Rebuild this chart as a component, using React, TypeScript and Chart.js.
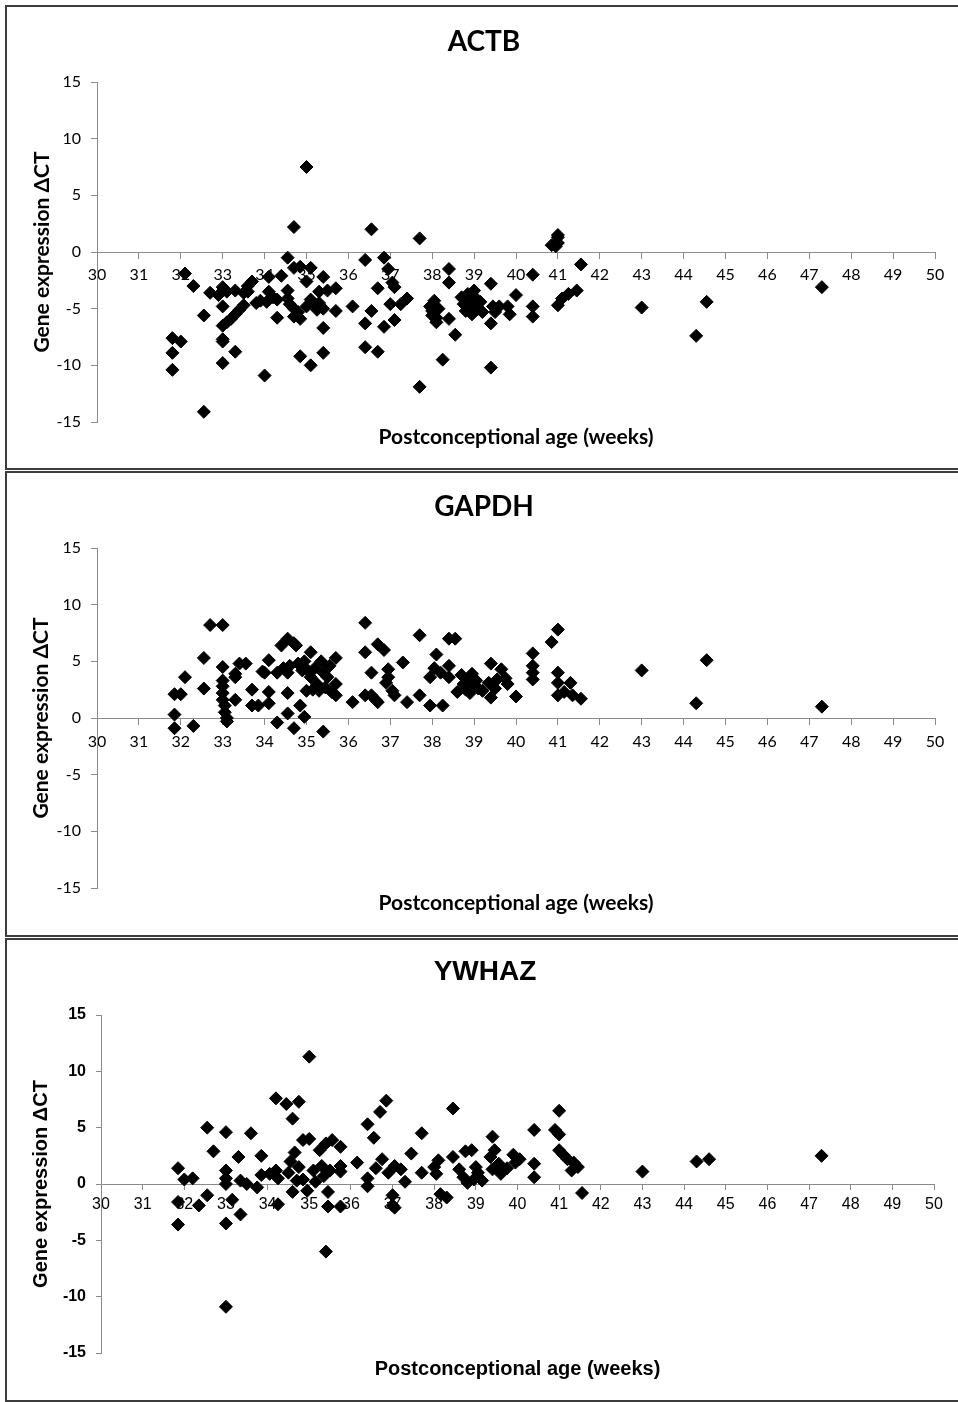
import React, { useEffect, useRef } from "react";
import { Chart, registerables } from "chart.js";

Chart.register(...registerables);

// ---------- DATA ----------
const GENES = ["ACTB", "GAPDH", "YWHAZ"];
const X_TITLE = "Postconceptional age (weeks)";
const Y_TITLE = "Gene expression ΔCT";
const X_RANGE = [30, 50];
const Y_RANGE = [-15, 15];
const X_STEP = 1;
const Y_STEP = 5;

const ACTB_AGE = [
  31.8, 32.0, 31.8, 31.8, 32.1, 32.3, 32.55, 32.55, 32.7, 32.9, 33.0, 33.0, 33.0, 33.0, 33.0, 33.0,
  33.1, 33.2, 33.3, 33.4, 33.5, 33.1, 33.3, 33.3, 33.5, 33.6, 33.7, 33.6, 33.8, 33.9, 34.0, 34.1,
  34.1, 34.05, 34.2, 34.3, 34.3, 34.4, 34.55, 34.7, 34.55, 34.55, 34.6, 34.7, 34.7, 34.7, 34.8, 34.85,
  34.85, 34.85, 35.0, 35.0, 35.0, 35.1, 35.1, 35.1, 35.2, 35.25, 35.3, 35.4, 35.4, 35.4, 35.3, 35.4,
  35.5, 35.7, 35.7, 36.1, 36.4, 36.4, 36.4, 36.55, 36.55, 36.7, 36.7, 36.85, 36.85, 36.95, 37.0, 37.05,
  37.1, 37.1, 37.25, 37.4, 37.7, 37.7, 37.95, 38.0, 38.05, 38.1, 38.1, 38.15, 38.0, 38.25, 38.4, 38.4,
  38.4, 38.55, 38.7, 38.75, 38.8, 38.85, 38.9, 38.95, 39.0, 39.0, 39.05, 39.1, 39.15, 39.2, 39.4, 39.4,
  39.4, 39.45, 39.5, 39.6, 39.8, 39.85, 40.0, 40.4, 40.4, 40.4, 40.85, 41.0, 41.0, 41.0, 40.95, 41.0,
  41.1, 41.25, 41.45, 41.55, 43.0, 44.3, 44.55, 47.3,
];
const ACTB_DCT = [
  -7.6, -7.9, -8.9, -10.4, -1.9, -3.0, -5.6, -14.1, -3.6, -3.8, -3.1, -4.8, -6.5, -7.7, -7.9, -9.8,
  -6.2, -5.9, -5.5, -5.1, -4.7, -3.5, -3.4, -8.8, -3.6, -3.5, -2.6, -3.0, -4.5, -4.3, -10.9, -2.2,
  -3.5, -4.4, -4.0, -5.8, -4.2, -2.1, -0.5, 2.2, -3.4, -4.1, -4.6, -1.4, -5.0, -5.7, -5.3, -1.3,
  -5.9, -9.2, 7.5, -2.6, -4.8, -1.4, -10.0, -4.2, -4.6, -5.1, -4.5, -2.2, -6.7, -8.9, -3.5, -5.0,
  -3.4, -3.2, -5.2, -4.8, -0.7, -6.3, -8.4, 2.0, -5.2, -3.2, -8.8, -0.5, -6.6, -1.5, -4.6, -2.7,
  -3.1, -6.0, -4.6, -4.1, 1.2, -11.9, -4.8, -5.2, -4.3, -5.8, -6.2, -5.0, -5.6, -9.5, -1.5, -2.7,
  -5.9, -7.3, -4.0, -4.6, -5.2, -3.7, -4.3, -5.5, -3.4, -4.8, -4.1, -5.0, -4.4, -5.3, -2.8, -6.3,
  -10.2, -4.8, -5.3, -4.8, -4.8, -5.5, -3.8, -2.0, -4.8, -5.7, 0.6, 1.3, 1.5, 0.8, 0.5, -4.7,
  -4.1, -3.7, -3.4, -1.1, -4.9, -7.4, -4.4, -3.1,
];

const GAPDH_AGE = [
  31.85, 32.0, 31.85, 31.85, 32.1, 32.3, 32.55, 32.55, 32.7, 33.0, 33.0, 33.0, 33.0, 33.0, 33.0, 33.05,
  33.05, 33.1, 33.1, 33.3, 33.3, 33.3, 33.4, 33.55, 33.7, 33.7, 33.85, 33.95, 34.0, 34.1, 34.1, 34.1,
  34.3, 34.3, 34.4, 34.45, 34.55, 34.55, 34.55, 34.55, 34.6, 34.7, 34.7, 34.75, 34.8, 34.85, 34.9, 34.95,
  34.95, 35.0, 35.0, 35.1, 35.1, 35.15, 35.2, 35.25, 35.3, 35.35, 35.4, 35.4, 35.45, 35.5, 35.55, 35.6,
  35.7, 35.7, 35.7, 36.1, 36.4, 36.4, 36.4, 36.55, 36.55, 36.65, 36.7, 36.7, 36.85, 36.95, 36.95, 36.9,
  37.05, 37.1, 37.3, 37.4, 37.7, 37.7, 37.95, 37.95, 38.05, 38.1, 38.2, 38.25, 38.4, 38.4, 38.4, 38.55,
  38.6, 38.7, 38.75, 38.8, 38.85, 38.9, 38.95, 39.0, 39.05, 39.1, 39.2, 39.35, 39.4, 39.4, 39.5, 39.55,
  39.65, 39.75, 39.8, 40.0, 40.4, 40.4, 40.4, 40.4, 40.85, 41.0, 41.0, 41.0, 41.0, 41.15, 41.3, 41.35,
  41.55, 43.0, 44.3, 44.55, 47.3,
];
const GAPDH_DCT = [
  2.1, 2.1, 0.3, -0.9, 3.6, -0.7, 5.3, 2.6, 8.2, 8.2, 4.5, 3.3, 2.8, 2.2, 1.6, 1.1,
  0.5, 0.0, -0.3, 3.6, 3.9, 1.6, 4.8, 4.8, 2.5, 1.1, 1.1, 4.1, 4.0, 5.1, 2.3, 1.3,
  -0.4, 4.0, 6.4, 4.4, 7.0, 4.0, 2.2, 0.4, 4.6, -0.9, 6.6, 6.4, 4.8, 1.1, 4.2, 5.0,
  0.1, 4.3, 2.4, 5.8, 3.6, 2.5, 4.4, 3.0, 2.4, 5.0, -1.2, 4.0, 2.7, 3.6, 4.6, 2.3,
  5.3, 3.0, 2.0, 1.4, 8.4, 5.8, 2.0, 4.0, 2.0, 1.6, 1.4, 6.5, 6.0, 4.3, 3.6, 3.1,
  2.4, 2.0, 4.9, 1.4, 7.3, 2.0, 1.1, 3.6, 4.4, 5.6, 4.0, 1.1, 7.0, 4.6, 3.6, 7.0,
  2.3, 3.8, 3.0, 2.5, 3.4, 2.2, 3.9, 2.9, 3.3, 2.6, 2.4, 3.1, 4.8, 1.8, 2.6, 3.4,
  4.3, 3.5, 3.0, 1.9, 5.7, 4.6, 4.0, 3.4, 6.7, 7.8, 4.0, 3.1, 2.0, 2.3, 3.1, 2.0,
  1.7, 4.2, 1.3, 5.1, 1.0,
];

const YWHAZ_AGE = [
  31.85, 32.0, 32.2, 31.85, 31.85, 32.35, 32.55, 32.55, 32.7, 33.0, 33.0, 33.0, 33.0, 33.15, 33.35, 33.0,
  33.0, 33.3, 33.35, 33.5, 33.6, 33.75, 33.85, 33.85, 34.05, 34.2, 34.25, 34.25, 34.2, 34.45, 34.75, 34.6,
  34.5, 34.55, 34.6, 34.65, 34.7, 34.75, 34.85, 34.85, 34.95, 35.0, 35.0, 35.1, 35.15, 35.25, 35.3, 35.35,
  35.4, 35.45, 35.45, 35.4, 35.5, 35.55, 35.75, 35.75, 35.75, 35.75, 36.15, 36.4, 36.4, 36.4, 36.55, 36.6,
  36.7, 36.75, 36.85, 36.9, 37.0, 37.0, 37.05, 37.05, 37.2, 37.3, 37.45, 37.7, 37.7, 38.0, 38.05, 38.1,
  38.15, 38.3, 38.45, 38.45, 38.6, 38.7, 38.75, 38.8, 38.9, 38.95, 39.0, 39.05, 39.15, 39.35, 39.4, 39.4,
  39.45, 39.55, 39.6, 39.75, 39.9, 39.95, 40.05, 40.4, 40.4, 40.4, 40.9, 41.0, 41.0, 41.0, 41.1, 41.2,
  41.35, 41.3, 41.45, 41.55, 43.0, 44.3, 44.6, 47.3,
];
const YWHAZ_DCT = [
  1.4, 0.4, 0.5, -1.6, -3.6, -1.9, -1.0, 5.0, 2.9, 4.6, 1.2, 0.5, 0.0, -1.4, -2.7, -3.5,
  -10.9, 2.4, 0.3, 0.0, 4.5, -0.3, 2.5, 0.8, 0.9, 1.2, 0.5, -1.8, 7.6, 7.1, 7.3, 5.8,
  1.0, 2.0, -0.7, 2.8, 0.3, 1.5, 3.9, 0.4, -0.6, 4.0, 11.3, 1.2, 0.2, 3.0, 1.6, 0.7,
  3.6, -0.7, -2.0, -6.0, 1.2, 3.9, 3.3, 1.6, 1.1, -2.0, 1.9, 5.3, 0.5, -0.2, 4.1, 1.4,
  6.4, 2.2, 7.4, 1.0, -1.0, -1.9, -2.1, 1.6, 1.3, 0.2, 2.7, 4.5, 1.0, 1.5, 0.9, 2.1,
  -0.9, -1.2, 6.7, 2.4, 1.3, 0.6, 2.9, 0.1, 3.0, 0.4, 1.5, 1.0, 0.3, 2.4, 4.2, 1.3,
  3.0, 1.8, 0.9, 1.4, 2.6, 1.9, 2.2, 4.8, 1.8, 0.6, 4.8, 4.4, 6.5, 3.0, 2.6, 2.2,
  1.9, 1.2, 1.5, -0.8, 1.1, 2.0, 2.2, 2.5,
];

const SERIES_AGE = [ACTB_AGE, GAPDH_AGE, YWHAZ_AGE];
const SERIES_DCT = [ACTB_DCT, GAPDH_DCT, YWHAZ_DCT];

// ---------- STYLE / LAYOUT ----------
const W = 958;
type PanelStyle = {
  top: number;
  height: number;
  chartLeft: number;
  chartRight: number;
  chartTop: number;
  chartBottom: number;
  titleCX: number;
  titleCY: number;
  xLabelCY: number;
  yLabelCX: number;
  family: string;
  titleSize: number;
  labelSize: number;
  tickSize: number;
  yTickBold: boolean;
  tickLen: number;
  xTickPad: number;
  yTickPad: number;
};

const PANEL_STYLES: PanelStyle[] = [
  {
    top: 5, height: 465, chartLeft: 97, chartRight: 935, chartTop: 77, chartBottom: 417,
    titleCX: 484, titleCY: 37, xLabelCY: 432, yLabelCX: 42,
    family: "Lato, 'Open Sans', sans-serif", titleSize: 28, labelSize: 21, tickSize: 16,
    yTickBold: false, tickLen: 6, xTickPad: 7, yTickPad: 10,
  },
  {
    top: 471, height: 466, chartLeft: 97, chartRight: 935, chartTop: 77, chartBottom: 417,
    titleCX: 484, titleCY: 36, xLabelCY: 432, yLabelCX: 41,
    family: "Lato, 'Open Sans', sans-serif", titleSize: 28, labelSize: 21, tickSize: 16,
    yTickBold: false, tickLen: 6, xTickPad: 8, yTickPad: 10,
  },
  {
    top: 938, height: 464, chartLeft: 101, chartRight: 934, chartTop: 77, chartBottom: 415,
    titleCX: 485, titleCY: 34, xLabelCY: 431, yLabelCX: 41,
    family: "'Liberation Sans', Arial, sans-serif", titleSize: 28, labelSize: 20, tickSize: 16,
    yTickBold: true, tickLen: 5, xTickPad: 6, yTickPad: 10,
  },
];

function buildConfig(idx: number): any {
  const s = PANEL_STYLES[idx];
  const ages = SERIES_AGE[idx];
  const vals = SERIES_DCT[idx];
  const pl = 2 * s.titleCX - s.chartRight;
  const pr = W - s.chartRight;
  const yAxisWidth = s.chartLeft - pl;
  const tLH = s.titleSize * 1.2;
  const tPadTop = s.titleCY - tLH / 2;
  const tPadBottom = s.chartTop - s.titleCY - tLH / 2;
  const sLH = s.labelSize * 1.2;
  const sPadTop = s.xLabelCY - s.chartBottom - sLH / 2;
  const sPadBottom = Math.max(0, s.height - s.chartBottom - sPadTop - sLH);
  const yTitlePad = s.yLabelCX - pl - s.labelSize / 2;
  const axisColor = "#8a8a8a";

  return {
    type: "scatter",
    data: {
      datasets: [
        {
          label: GENES[idx],
          data: ages.map((a, i) => ({ x: a, y: vals[i] })),
          pointStyle: "rectRot",
          pointRadius: 6.5,
          pointBorderWidth: 1,
          backgroundColor: "#000",
          borderColor: "#000",
          showLine: false,
        },
      ],
    },
    options: {
      animation: false,
      responsive: false,
      maintainAspectRatio: false,
      devicePixelRatio: 1,
      layout: { padding: { left: pl, right: pr, top: 0, bottom: 0 } },
      plugins: {
        legend: { display: false },
        tooltip: { enabled: false },
        title: {
          display: true,
          text: GENES[idx],
          color: "#000",
          font: { family: s.family, size: s.titleSize, weight: "bold", lineHeight: 1.2 },
          padding: { top: tPadTop, bottom: tPadBottom },
        },
        subtitle: {
          display: true,
          position: "bottom",
          fullSize: false,
          text: X_TITLE,
          color: "#000",
          font: { family: s.family, size: s.labelSize, weight: "bold", lineHeight: 1.2 },
          padding: { top: sPadTop, bottom: sPadBottom },
        },
      },
      scales: {
        x: {
          type: "linear",
          position: { y: 0 },
          min: X_RANGE[0],
          max: X_RANGE[1],
          ticks: {
            stepSize: X_STEP,
            color: "#000",
            font: { family: s.family, size: s.tickSize },
            padding: s.xTickPad,
            maxRotation: 0,
            autoSkip: false,
          },
          grid: { drawOnChartArea: false, drawTicks: true, tickLength: s.tickLen, color: axisColor },
          border: { color: axisColor, width: 1 },
        },
        y: {
          type: "linear",
          min: Y_RANGE[0],
          max: Y_RANGE[1],
          ticks: {
            stepSize: Y_STEP,
            color: "#000",
            font: { family: s.family, size: s.tickSize, weight: s.yTickBold ? "bold" : "normal" },
            padding: s.yTickPad,
          },
          grid: { drawOnChartArea: false, drawTicks: true, tickLength: s.tickLen, color: axisColor },
          border: { color: axisColor, width: 1 },
          title: {
            display: true,
            text: Y_TITLE,
            color: "#000",
            font: { family: s.family, size: s.labelSize, weight: "bold", lineHeight: 1 },
            padding: { top: yTitlePad, bottom: 0 },
          },
          afterFit: (scale: any) => {
            scale.width = yAxisWidth;
          },
        },
      },
    },
  };
}

function Panel({ idx }: { idx: number }) {
  const ref = useRef<HTMLCanvasElement | null>(null);
  const s = PANEL_STYLES[idx];
  useEffect(() => {
    if (!ref.current) return;
    const chart = new Chart(ref.current, buildConfig(idx));
    return () => chart.destroy();
  }, [idx]);
  return (
    <>
      <div
        style={{
          position: "absolute",
          left: 5,
          top: s.top,
          width: W - 5,
          height: s.height,
          boxSizing: "border-box",
          borderTop: "2px solid #3c3c3c",
          borderLeft: "2px solid #3c3c3c",
          borderBottom: "2px solid #3c3c3c",
        }}
      />
      <canvas
        ref={ref}
        width={W}
        height={s.height}
        style={{ position: "absolute", left: 0, top: s.top, width: W, height: s.height }}
      />
    </>
  );
}

export default function App() {
  return (
    <div
      style={{
        position: "absolute",
        left: 0,
        top: 0,
        width: W,
        height: 1402,
        overflow: "hidden",
        background: "#fff",
      }}
    >
      {GENES.map((g, i) => (
        <Panel key={g} idx={i} />
      ))}
    </div>
  );
}
